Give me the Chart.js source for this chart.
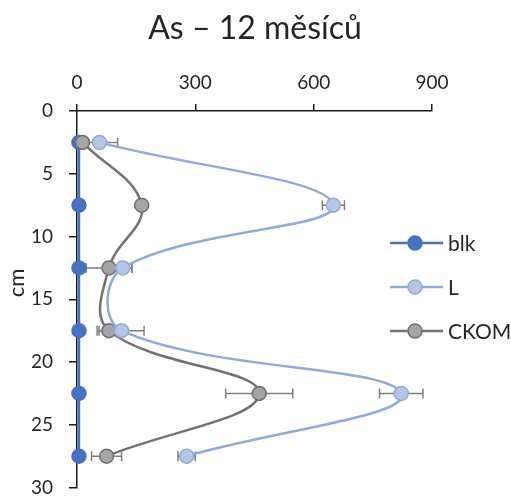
<!DOCTYPE html>
<html lang="cs">
<head>
    <meta charset="UTF-8">
    <title>As – 12 měsíců</title>
    <script src="https://cdn.jsdelivr.net/npm/chart.js"></script>
    <style>
        html, body {
            margin: 0;
            padding: 0;
            background: #ffffff;
        }
        .chart-container {
            position: relative;
            width: 511px;
            height: 496px;
        }
    </style>
</head>
<body>
    <div class="chart-container">
        <canvas id="asChart"></canvas>
    </div>

    <script>
        // Data (depth in cm, value per series)
        const chartTitle = 'As – 12 měsíců';
        const yTitle = 'cm';
        const depths = [2.5, 7.5, 12.5, 17.5, 22.5, 27.5];
        const blk = [5, 5, 5, 5, 5, 5];
        const errBlk = [2, 2, 2, 2, 2, 2];
        const valL = [57, 650, 116, 113, 822, 278];
        const errL = [46, 28, 23, 57, 55, 22];
        const ckom = [14, 164, 81, 81, 462, 75];
        const errCkom = [10, 8, 58, 30, 85, 38];
        const xTicks = [0, 300, 600, 900];
        const yTicks = [0, 5, 10, 15, 20, 25, 30];

        const textColor = '#262626';
        const axisColor = '#1a1a1a';

        function toPoints(values) {
            return values.map((v, i) => ({ x: v, y: depths[i] }));
        }

        // horizontal error bars, drawn under the lines
        const errorBarPlugin = {
            id: 'errorBars',
            beforeDatasetsDraw(chart) {
                const ctx = chart.ctx;
                const xs = chart.scales.x;
                const ys = chart.scales.y;
                ctx.save();
                ctx.strokeStyle = '#7f7f7f';
                ctx.lineWidth = 1.5;
                chart.data.datasets.forEach(ds => {
                    if (!ds.errors) return;
                    ds.data.forEach((p, i) => {
                        const e = ds.errors[i];
                        const y = ys.getPixelForValue(p.y);
                        const x1 = xs.getPixelForValue(p.x - e);
                        const x2 = xs.getPixelForValue(p.x + e);
                        ctx.beginPath();
                        ctx.moveTo(x1, y); ctx.lineTo(x2, y);
                        ctx.moveTo(x1, y - 5); ctx.lineTo(x1, y + 5);
                        ctx.moveTo(x2, y - 5); ctx.lineTo(x2, y + 5);
                        ctx.stroke();
                    });
                });
                ctx.restore();
            }
        };

        // title, rotated axis title and a line+marker legend like the original
        const decorPlugin = {
            id: 'decor',
            afterDraw(chart) {
                const ctx = chart.ctx;
                ctx.save();
                ctx.fillStyle = textColor;
                ctx.font = '32px Lato';
                ctx.textAlign = 'center';
                ctx.textBaseline = 'alphabetic';
                ctx.fillText(chartTitle, 255, 39);

                ctx.save();
                ctx.translate(17, 283);
                ctx.rotate(-Math.PI / 2);
                ctx.font = '22px Lato';
                ctx.textBaseline = 'middle';
                ctx.fillText(yTitle, 0, 0);
                ctx.restore();

                const legendOrder = [0, 1, 2];
                legendOrder.forEach((di, k) => {
                    const ds = chart.data.datasets[di];
                    const y = 243 + k * 44;
                    ctx.strokeStyle = ds.borderColor;
                    ctx.lineWidth = ds.borderWidth;
                    ctx.beginPath();
                    ctx.moveTo(390, y); ctx.lineTo(443, y);
                    ctx.stroke();
                    ctx.beginPath();
                    ctx.arc(415, y, ds.pointRadius, 0, Math.PI * 2);
                    ctx.fillStyle = ds.pointBackgroundColor;
                    ctx.fill();
                    ctx.lineWidth = ds.pointBorderWidth;
                    ctx.strokeStyle = ds.pointBorderColor;
                    ctx.stroke();
                    ctx.fillStyle = textColor;
                    ctx.font = '21px Lato';
                    ctx.textAlign = 'left';
                    ctx.textBaseline = 'middle';
                    ctx.fillText(ds.label, 448, y + 1);
                });
                ctx.restore();
            }
        };

        function createChart() {
            const ctx = document.getElementById('asChart').getContext('2d');
            new Chart(ctx, {
                type: 'scatter',
                data: {
                    datasets: [
                        {
                            label: 'blk',
                            data: toPoints(blk),
                            errors: errBlk,
                            showLine: true,
                            borderColor: '#4472c4',
                            borderWidth: 2.5,
                            pointBackgroundColor: '#4472c4',
                            pointBorderColor: '#4472c4',
                            pointBorderWidth: 1.5,
                            pointRadius: 7,
                            tension: 0.4,
                            order: 2,
                            clip: false
                        },
                        {
                            label: 'L',
                            data: toPoints(valL),
                            errors: errL,
                            showLine: true,
                            borderColor: '#8faadc',
                            borderWidth: 2.5,
                            pointBackgroundColor: '#b4c7e7',
                            pointBorderColor: '#8faadc',
                            pointBorderWidth: 1.5,
                            pointRadius: 7,
                            tension: 0.4,
                            order: 0,
                            clip: false
                        },
                        {
                            label: 'CKOM',
                            data: toPoints(ckom),
                            errors: errCkom,
                            showLine: true,
                            borderColor: '#767171',
                            borderWidth: 2.5,
                            pointBackgroundColor: '#a5a5a5',
                            pointBorderColor: '#6f6f6f',
                            pointBorderWidth: 1.5,
                            pointRadius: 7,
                            tension: 0.4,
                            order: 1,
                            clip: false
                        }
                    ]
                },
                options: {
                    responsive: true,
                    maintainAspectRatio: false,
                    animation: false,
                    layout: {
                        padding: { top: 67, left: 0, right: 79, bottom: 7 }
                    },
                    plugins: {
                        legend: { display: false },
                        title: { display: false },
                        tooltip: { enabled: false }
                    },
                    scales: {
                        x: {
                            type: 'linear',
                            position: 'top',
                            min: 0,
                            max: 900,
                            afterBuildTicks: s => { s.ticks = xTicks.map(v => ({ value: v })); },
                            afterFit: s => {
                                s.height = 44;
                                s.paddingLeft = 0;
                                s.paddingRight = 0;
                            },
                            grid: {
                                display: true,
                                drawOnChartArea: false,
                                drawTicks: true,
                                tickLength: 7,
                                color: axisColor,
                                lineWidth: 1.5
                            },
                            border: { display: true, color: axisColor, width: 1.5 },
                            ticks: {
                                color: textColor,
                                font: { family: 'Lato', size: 19 },
                                padding: 10,
                                maxRotation: 0
                            }
                        },
                        y: {
                            type: 'linear',
                            reverse: true,
                            min: 0,
                            max: 30,
                            afterBuildTicks: s => { s.ticks = yTicks.map(v => ({ value: v })); },
                            afterFit: s => {
                                s.width = 77;
                                s.paddingTop = 0;
                                s.paddingBottom = 0;
                            },
                            grid: {
                                display: true,
                                drawOnChartArea: false,
                                drawTicks: true,
                                tickLength: 8,
                                color: axisColor,
                                lineWidth: 1.5
                            },
                            border: { display: true, color: axisColor, width: 1.5 },
                            ticks: {
                                color: textColor,
                                font: { family: 'Lato', size: 19 },
                                padding: 16
                            }
                        }
                    }
                },
                plugins: [errorBarPlugin, decorPlugin]
            });
        }

        window.addEventListener('load', createChart);
    </script>
</body>
</html>
